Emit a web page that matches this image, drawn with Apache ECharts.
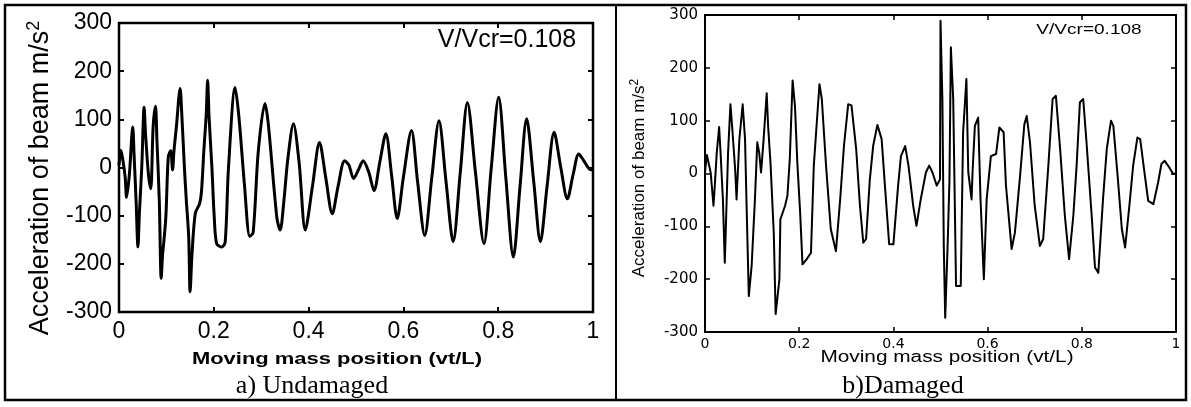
<!DOCTYPE html>
<html>
<head>
<meta charset="utf-8">
<script src="https://cdn.jsdelivr.net/npm/echarts@6/dist/echarts.min.js"></script>
<style>
html,body{margin:0;padding:0;background:#fff;}
#chart{width:1191px;height:407px;}
</style>
</head>
<body>
<div id="chart"></div>
<script>
// ---- data ----
const xTicks = [0, 0.2, 0.4, 0.6, 0.8, 1];
const yTicks = [-300, -200, -100, 0, 100, 200, 300];

const undamagedX = [0.000,0.004,0.009,0.013,0.016,0.022,0.029,0.032,0.036,0.040,0.043,0.048,0.053,0.056,0.062,0.067,0.072,0.077,0.080,0.085,0.089,0.092,0.095,0.099,0.104,0.109,0.113,0.116,0.121,0.129,0.132,0.138,0.142,0.147,0.150,0.154,0.161,0.170,0.174,0.179,0.184,0.187,0.190,0.196,0.201,0.206,0.217,0.224,0.231,0.245,0.253,0.265,0.276,0.283,0.294,0.308,0.315,0.333,0.340,0.348,0.356,0.368,0.380,0.393,0.408,0.423,0.436,0.450,0.462,0.476,0.485,0.495,0.505,0.515,0.527,0.538,0.550,0.563,0.575,0.587,0.600,0.617,0.630,0.645,0.660,0.675,0.690,0.705,0.720,0.735,0.752,0.770,0.785,0.801,0.816,0.832,0.846,0.860,0.875,0.889,0.903,0.918,0.932,0.946,0.958,0.970,0.980,0.992,1.000];
const undamagedY = [5,36,10,-20,-62,-13,84,22,-68,-165,-95,0,125,70,-13,-44,84,127,57,-68,-230,-180,-150,-100,22,35,-5,35,84,164,120,0,-68,-143,-258,-180,-95,-75,-50,35,110,181,105,0,-104,-158,-165,-155,0,166,105,-40,-143,-135,35,133,90,-104,-130,-68,16,91,10,-130,-40,52,-20,-96,-40,14,5,-23,-5,14,-10,-48,10,70,-15,-106,-20,77,-30,-141,-20,97,-30,-154,-10,135,-10,-158,-5,146,-20,-186,-40,101,-30,-154,-40,73,0,-65,-15,28,15,-3,-5];

const damagedX = [0.000,0.004,0.007,0.012,0.018,0.021,0.025,0.030,0.033,0.038,0.042,0.049,0.054,0.058,0.064,0.067,0.073,0.080,0.085,0.088,0.093,0.099,0.106,0.111,0.115,0.119,0.124,0.131,0.134,0.139,0.146,0.150,0.158,0.160,0.170,0.175,0.180,0.186,0.191,0.196,0.202,0.207,0.216,0.225,0.231,0.243,0.248,0.257,0.267,0.278,0.287,0.295,0.304,0.311,0.321,0.329,0.336,0.342,0.350,0.357,0.366,0.375,0.382,0.391,0.400,0.410,0.416,0.425,0.432,0.442,0.449,0.458,0.469,0.476,0.483,0.492,0.499,0.500,0.504,0.507,0.510,0.515,0.519,0.522,0.527,0.533,0.543,0.548,0.555,0.559,0.566,0.568,0.573,0.580,0.585,0.592,0.598,0.607,0.618,0.625,0.634,0.639,0.651,0.658,0.669,0.678,0.683,0.690,0.700,0.711,0.718,0.729,0.738,0.745,0.754,0.764,0.773,0.782,0.789,0.796,0.803,0.810,0.821,0.828,0.835,0.845,0.853,0.862,0.867,0.876,0.885,0.892,0.901,0.909,0.918,0.924,0.933,0.941,0.952,0.962,0.969,0.976,0.986,0.994,1.000];
const damagedY = [2,35,35,2,-61,-20,40,88,40,-49,-169,40,131,84,8,-49,65,131,65,-49,-232,-175,-49,59,40,2,59,152,90,21,-112,-266,-200,-87,-61,-42,27,176,128,21,-74,-172,-162,-150,15,169,141,15,-105,-147,-49,52,131,129,46,-61,-131,-124,-11,52,92,65,-23,-134,-134,-23,33,52,15,-61,-99,-49,2,15,2,-23,-11,289,141,-140,-273,-140,-14,239,141,-213,-213,78,179,2,-49,2,90,106,-49,-200,-49,33,37,87,78,-23,-143,-112,-4,93,109,59,-61,-137,-124,15,141,147,46,-80,-162,-80,15,135,141,59,-80,-178,-188,-49,46,100,90,-4,-105,-140,-61,15,68,65,2,-52,-58,-17,18,24,11,-1,0];

const panelTitles = ['a) Undamaged', 'b)Damaged'];
const yName = 'Acceleration of beam m/s';
const xName = 'Moving mass position (vt/L)';
const speedNote = 'V/Vcr=0.108';

// ---- chart ----
const SANS = '"Liberation Sans", Arial, sans-serif';
const WIDE = '"DejaVu Sans", sans-serif';
const SERIF = '"Liberation Serif", "Times New Roman", serif';
const zip = (xs, ys) => xs.map((x, i) => [x, ys[i]]);

function xAxes(grid, fs, fam, margin, tickW) {
  const base = {
    gridIndex: grid, type: 'value', min: xTicks[0], max: xTicks[xTicks.length - 1], interval: 0.2,
    axisLine: { show: false, onZero: false }, splitLine: { show: false },
    axisTick: { inside: true, length: 5, lineStyle: { color: '#000', width: tickW } }
  };
  return [
    Object.assign({}, base, { position: 'bottom', axisLabel: { fontSize: fs, color: '#000', fontFamily: fam, margin: margin } }),
    Object.assign({}, base, { position: 'top', axisLabel: { show: false } })
  ];
}
function yAxes(grid, fs, fam, margin, tickW) {
  const base = {
    gridIndex: grid, type: 'value', min: yTicks[0], max: yTicks[yTicks.length - 1], interval: 100,
    axisLine: { show: false, onZero: false }, splitLine: { show: false },
    axisTick: { inside: true, length: 5, lineStyle: { color: '#000', width: tickW } }
  };
  return [
    Object.assign({}, base, { position: 'left', axisLabel: { fontSize: fs, color: '#000', fontFamily: fam, margin: margin } }),
    Object.assign({}, base, { position: 'right', axisLabel: { show: false } })
  ];
}

function yLabel(x, y, fs, fs2, pad) {
  return {
    type: 'text', x: x, y: y, rotation: Math.PI / 2,
    style: {
      text: '{a|' + yName + '}{b|2}', align: 'center', verticalAlign: 'middle',
      rich: {
        a: { fontSize: fs, fontFamily: SANS, fill: '#000', verticalAlign: 'bottom', lineHeight: fs + 2 },
        b: { fontSize: fs2, fontFamily: SANS, fill: '#000', verticalAlign: 'top', lineHeight: fs2, padding: [0, 0, pad, 0] }
      }
    }
  };
}

const chart = echarts.init(document.getElementById('chart'), null, { renderer: 'canvas' });
chart.setOption({
  animation: false,
  backgroundColor: '#fff',
  grid: [
    { left: 119, top: 23, width: 474, height: 289, show: true, borderColor: '#000', borderWidth: 2.5, backgroundColor: 'transparent' },
    { left: 705, top: 15, width: 471, height: 317, show: true, borderColor: '#000', borderWidth: 2, backgroundColor: 'transparent' }
  ],
  xAxis: [].concat(xAxes(0, 23, SANS, 8, 2), xAxes(1, 14, WIDE, 5, 1.5)),
  yAxis: [].concat(yAxes(0, 23, SANS, 7, 2), yAxes(1, 15, WIDE, 7, 1.5)),
  series: [
    { type: 'line', xAxisIndex: 0, yAxisIndex: 0, data: zip(undamagedX, undamagedY), showSymbol: false, symbol: 'none',
      smooth: 0.3, lineStyle: { color: '#000', width: 3, join: 'round' } },
    { type: 'line', xAxisIndex: 2, yAxisIndex: 2, data: zip(damagedX, damagedY), showSymbol: false, symbol: 'none',
      lineStyle: { color: '#000', width: 2, join: 'round' } }
  ],
  graphic: [
    { type: 'rect', shape: { x: 5, y: 5, width: 1181, height: 395 }, style: { fill: 'none', stroke: '#000', lineWidth: 2.5 } },
    { type: 'line', shape: { x1: 616, y1: 5, x2: 616, y2: 400 }, style: { stroke: '#000', lineWidth: 2 } },
    yLabel(40, 178, 27, 18, 24),
    yLabel(638, 178, 17, 12, 15),
    { type: 'text', x: 337, y: 359, scaleX: 1.33, style: { text: xName, font: 'bold 16.5px ' + SANS, fill: '#000', align: 'center', verticalAlign: 'middle' } },
    { type: 'text', x: 947, y: 358, scaleX: 1.3, style: { text: xName, font: '16px ' + SANS, fill: '#000', align: 'center', verticalAlign: 'middle' } },
    { type: 'text', x: 507, y: 40, style: { text: speedNote, font: '25px ' + SANS, fill: '#000', align: 'center', verticalAlign: 'middle' } },
    { type: 'text', x: 1089, y: 30, scaleX: 1.36, style: { text: speedNote, font: '14px ' + SANS, fill: '#000', align: 'center', verticalAlign: 'middle' } },
    { type: 'text', x: 312, y: 386, style: { text: panelTitles[0], font: '26px ' + SERIF, fill: '#000', align: 'center', verticalAlign: 'middle' } },
    { type: 'text', x: 903, y: 386, style: { text: panelTitles[1], font: '26px ' + SERIF, fill: '#000', align: 'center', verticalAlign: 'middle' } }
  ]
});
</script>
</body>
</html>
